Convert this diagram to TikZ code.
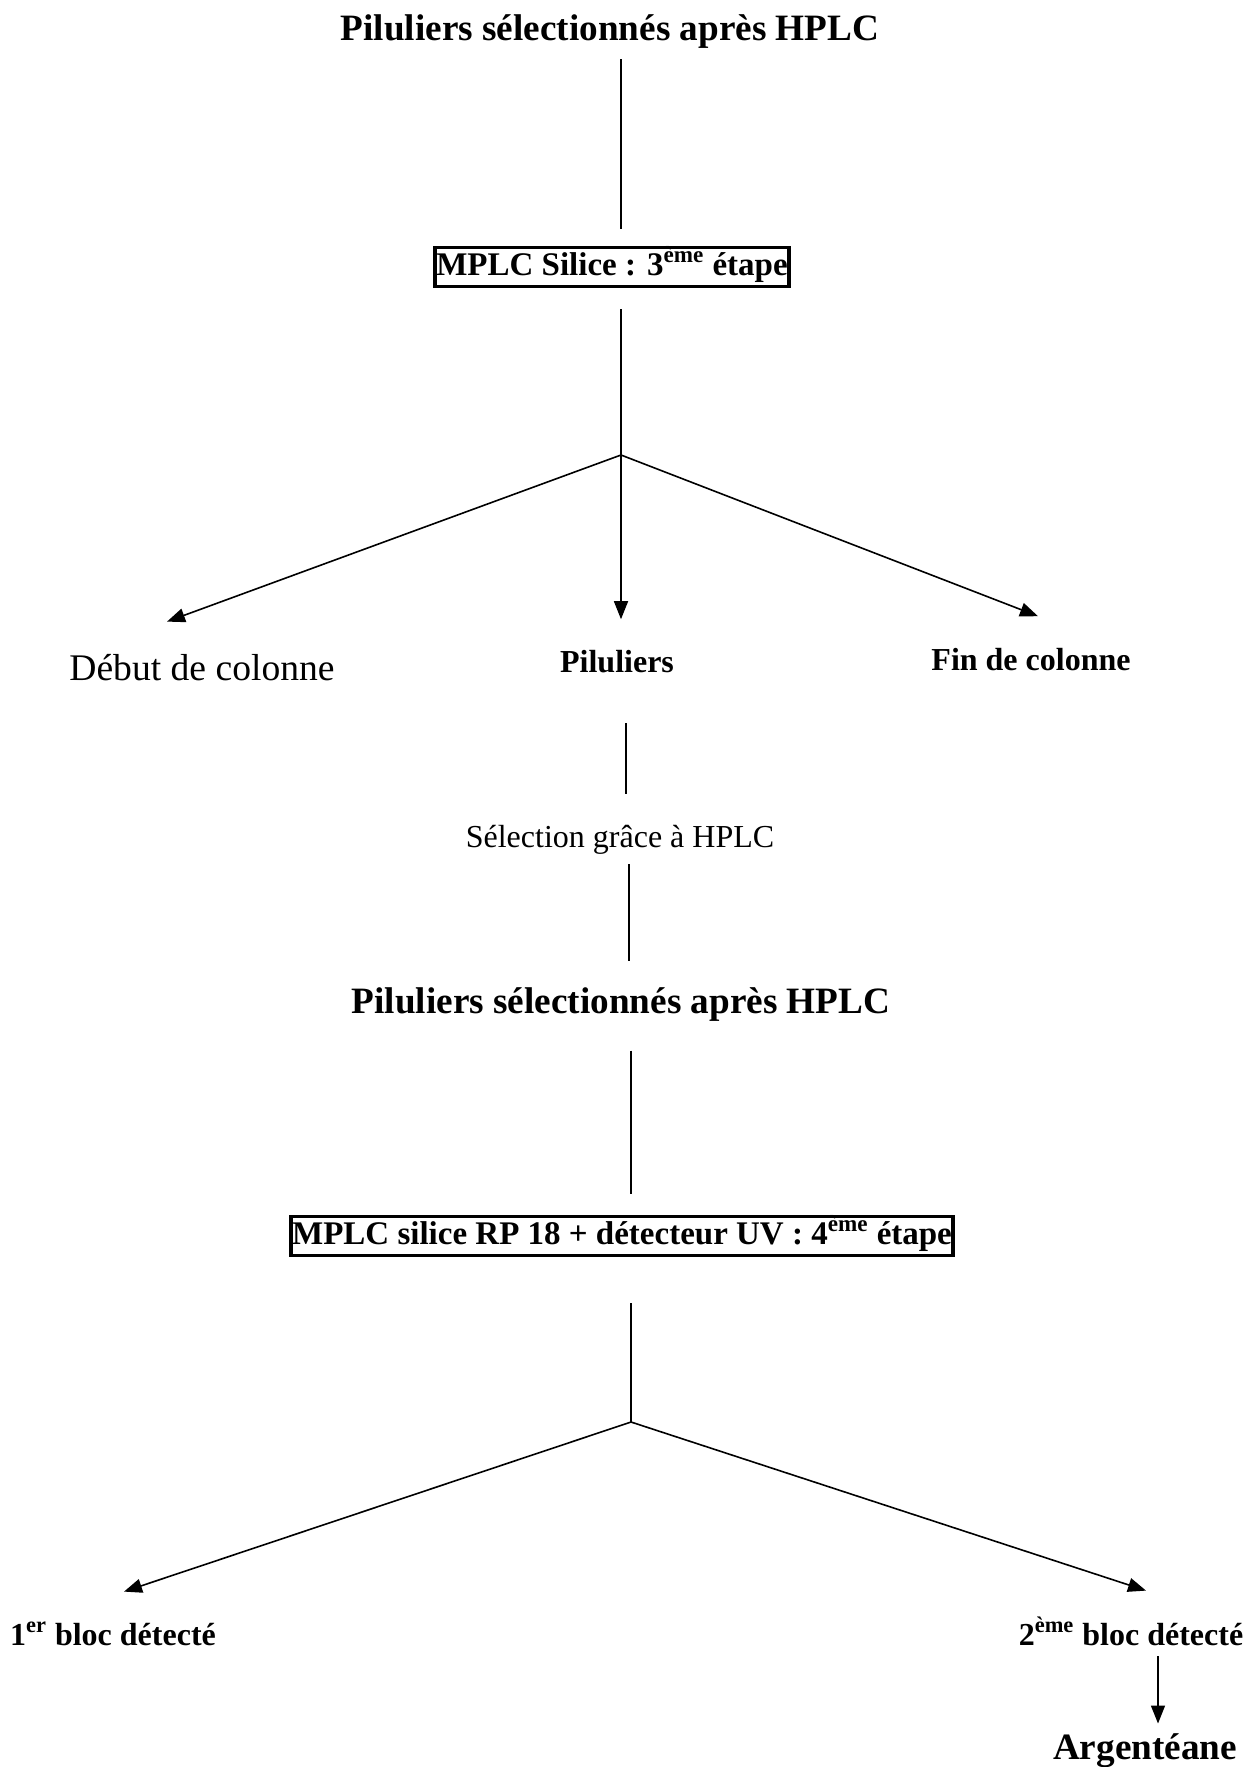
\documentclass[tikz,border=0pt]{standalone}
\usepackage{fontspec}
\setmainfont{Liberation Serif}
\usetikzlibrary{arrows.meta}
\begin{document}
\begin{tikzpicture}[x=0.5pt,y=-0.5pt,
  title/.style={inner sep=0pt,text height=13pt,text depth=3.7pt,font=\fontsize{18.6}{22}\selectfont\bfseries},
  lbl/.style={inner sep=0pt,text height=11.2pt,text depth=3.2pt,font=\fontsize{16}{19}\selectfont\bfseries},
  plain/.style={inner sep=0pt,text height=11.2pt,text depth=3.2pt,font=\fontsize{16}{19}\selectfont},
  big/.style={inner sep=0pt,text height=13.2pt,text depth=3.8pt,font=\fontsize{18.8}{22}\selectfont},
  stepbox/.style={draw,line width=1.8pt,font=\fontsize{16.5}{19}\selectfont\bfseries,
    inner xsep=0.5pt,inner ysep=2.3pt,text height=11.6pt,text depth=3.3pt},
  link/.style={line width=0.8pt},
  arr/.style={line width=0.8pt,-{Triangle[length=9pt,width=7pt]}}]
\useasboundingbox (0,0) rectangle (1244,1767);

% first stage
\node[title] (t1) at (610,31.5) {Piluliers sélectionnés après HPLC};
\node[stepbox] (b1) at (612,267) {MPLC Silice : 3\textsuperscript{ème} étape};
\coordinate (a1) at (621,455);
\node[big] (debut) at (202,671.5) {Début de colonne};
\node[lbl] (pil) at (617,664.5) {Piluliers};
\node[lbl] (fin) at (1031,662.5) {Fin de colonne};

\draw[link,shorten <=5.25pt,shorten >=8.4pt] (t1.south -| a1) -- (b1.north -| a1);
\draw[link,shorten <=10.4pt] (b1.south -| a1) -- (a1);
\draw[arr] (a1) -- ([xshift=-17.5pt,yshift=16.25pt]debut.north);
\draw[arr] (a1) -- ([yshift=15.25pt]pil.north -| a1);
\draw[arr] (a1) -- ([xshift=3.5pt,yshift=15.75pt]fin.north);

% selection
\node[plain] (sel) at (620,839.5) {Sélection grâce à HPLC};
\coordinate (m1) at (626,0);
\draw[link,shorten <=22.05pt,shorten >=15.55pt] (pil.south -| m1) -- (sel.north -| m1);

% second stage
\node[title] (t2) at (621,1004.5) {Piluliers sélectionnés après HPLC};
\coordinate (m2) at (629,0);
\draw[link,shorten <=5.05pt,shorten >=13.35pt] (sel.south -| m2) -- (t2.north -| m2);

\node[stepbox] (b2) at (622,1236) {MPLC silice RP 18 + détecteur UV : 4\textsuperscript{ème} étape};
\coordinate (a2) at (631,1422);
\draw[link,shorten <=14.45pt,shorten >=10.4pt] (t2.south -| a2) -- (b2.north -| a2);
\draw[link,shorten <=22.9pt] (b2.south -| a2) -- (a2);

\node[lbl] (bloc1) at (113,1637.5) {1\textsuperscript{er} bloc détecté};
\node[lbl] (bloc2) at (1131,1637.5) {2\textsuperscript{ème} bloc détecté};
\draw[arr] (a2) -- ([xshift=5.5pt,yshift=15.55pt]bloc1.north);
\draw[arr] (a2) -- ([xshift=7.5pt,yshift=16.05pt]bloc2.north);

\node[title] (arg) at (1145,1750) {Argentéane};
\draw[arr,shorten <=2.05pt,shorten >=4.7pt] ([xshift=13.5pt]bloc2.south) -- ([xshift=13.5pt]bloc2.south |- arg.north);
\end{tikzpicture}
\end{document}
